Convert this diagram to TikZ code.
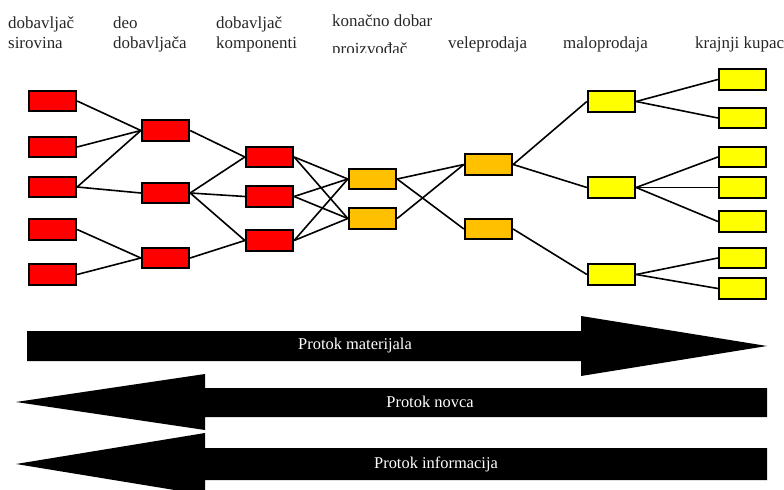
\documentclass[tikz,border=0pt]{standalone}
\usepackage{fontspec}
\setmainfont{Liberation Serif}
\definecolor{boxred}{HTML}{FF0000}
\definecolor{boxorange}{HTML}{FFC000}
\definecolor{boxyellow}{HTML}{FFFF00}
\tikzset{
  unit/.style={draw=black, line width=1.8bp, minimum width=47.5bp, minimum height=20.5bp, inner sep=0pt},
  redbox/.style={unit, fill=boxred},
  orangebox/.style={unit, fill=boxorange},
  yellowbox/.style={unit, fill=boxyellow},
  link/.style={draw=black, line width=1.6bp},
  head/.style={anchor=base west, inner sep=0pt, text=black!85, font=\fontsize{17}{20}\selectfont},
  flowlabel/.style={text=white, inner sep=0pt, font=\fontsize{16.5}{19}\selectfont},
  flow/.style={fill=black}
}
\begin{document}
\begin{tikzpicture}[x=1bp, y=-1bp]
\useasboundingbox (0,0) rectangle (784,490);

% column headings
\node[head] (h1a) at (8,29) {dobavljač};
\node[head] (h1b) at (8,49) {sirovina};
\node[head] (h2a) at (113,29) {deo};
\node[head] (h2b) at (113,49) {dobavljača};
\node[head] (h3a) at (216,29) {dobavljač};
\node[head] (h3b) at (216,49) {komponenti};
\node[head] (h4a) at (332,27) {konačno dobar};
\begin{scope}
  \clip (320,30) rectangle (445,52.5);
  \node[head] (h4b) at (332,55) {proizvođač};
\end{scope}
\node[head] (h5) at (448,49) {veleprodaja};
\node[head] (h6) at (563,49) {maloprodaja};
\node[head] (h7) at (695,49) {krajnji kupac};

% raw material suppliers
\node[redbox] (a1) at (52.5,101) {};
\node[redbox] (a2) at (52.5,147) {};
\node[redbox] (a3) at (52.5,187) {};
\node[redbox] (a4) at (52.5,229.5) {};
\node[redbox] (a5) at (52.5,274.5) {};
% part suppliers
\node[redbox] (b1) at (165.5,130.5) {};
\node[redbox] (b2) at (165.5,193) {};
\node[redbox] (b3) at (165.5,258) {};
% component suppliers
\node[redbox] (c1) at (269.5,157) {};
\node[redbox] (c2) at (269.5,196.5) {};
\node[redbox] (c3) at (269.5,240.5) {};
% producers
\node[orangebox] (d1) at (372.5,179) {};
\node[orangebox] (d2) at (372.5,218.5) {};
% wholesale
\node[orangebox] (e1) at (488.5,164.5) {};
\node[orangebox] (e2) at (488.5,229) {};
% retail
\node[yellowbox] (f1) at (611.5,101.5) {};
\node[yellowbox] (f2) at (611.5,187.5) {};
\node[yellowbox] (f3) at (611.5,274.5) {};
% end customers
\node[yellowbox] (g1) at (742.5,79.5) {};
\node[yellowbox] (g2) at (742.5,118) {};
\node[yellowbox] (g3) at (742.5,157) {};
\node[yellowbox] (g4) at (742.5,187.5) {};
\node[yellowbox] (g5) at (742.5,221.5) {};
\node[yellowbox] (g6) at (742.5,258) {};
\node[yellowbox] (g7) at (742.5,288.5) {};

% links between tiers
\foreach \s/\t in {a1/b1, a2/b1, a3/b1, a3/b2, a4/b3, a5/b3,
                   b1/c1, b2/c1, b2/c2, b2/c3, b3/c3,
                   c1/d1, c1/d2, c2/d1, c2/d2, c3/d1, c3/d2,
                   d1/e1, d1/e2, d2/e1,
                   e1/f1, e1/f2, e2/f3,
                   f1/g1, f1/g2, f2/g3, f2/g4, f2/g5, f3/g6, f3/g7}
  \draw[link] (\s.east) -- (\t.west);

% flow arrows
\fill[flow] (27,331) -- (581,331) -- (581,316) -- (767,346) -- (581,376) -- (581,361) -- (27,361) -- cycle;
\node[flowlabel] (m) at (355,346) {Protok materijala};

\fill[flow] (767,388) -- (205,388) -- (205,374) -- (16,402) -- (205,430) -- (205,417) -- (767,417) -- cycle;
\node[flowlabel] (n) at (430,402) {Protok novca};

\fill[flow] (767,448) -- (205,448) -- (205,433) -- (16,464) -- (205,495) -- (205,480) -- (767,480) -- cycle;
\node[flowlabel] (i) at (436,464) {Protok informacija};
\end{tikzpicture}
\end{document}
